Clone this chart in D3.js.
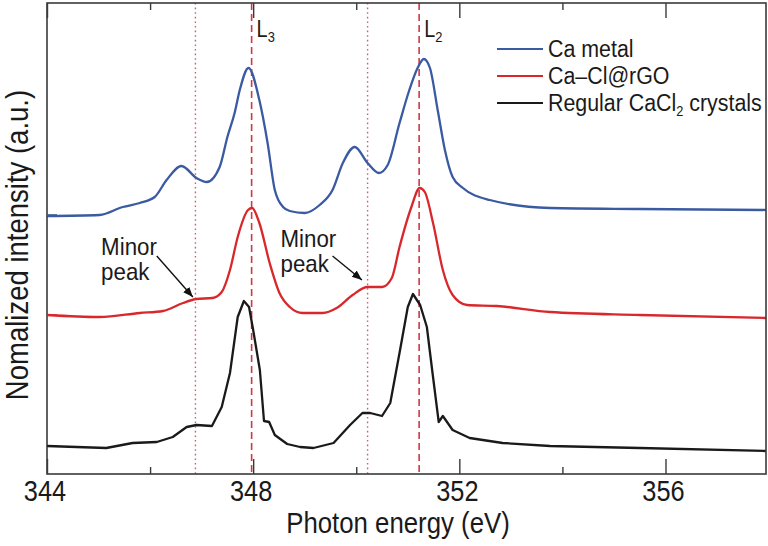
<!DOCTYPE html>
<html><head><meta charset="utf-8">
<script src="https://cdn.jsdelivr.net/npm/d3@7/dist/d3.min.js"></script>
<style>
body{margin:0;background:#fff}
text{font-family:"Liberation Sans",Arial,Helvetica,sans-serif;fill:#1a1a1a}
</style>
</head><body>
<svg id="chart" width="768" height="546"></svg>
<script>
// ---- data (photon energy in eV, normalized intensity with vertical offsets) ----
const energyBlue = [344.0,345.02,345.47,345.80,346.09,346.32,346.61,346.90,347.10,347.35,347.50,347.64,347.74,347.91,348.12,348.28,348.42,348.58,348.71,349.00,349.29,349.54,349.74,349.97,350.22,350.44,350.61,350.84,351.03,351.19,351.31,351.43,351.58,351.72,351.87,352.07,352.59,353.76,355.5,357.95];
const intensityBlue = [2.54,2.55,2.63,2.67,2.73,2.90,3.04,2.92,2.88,3.03,3.33,3.57,3.80,4.02,3.70,3.27,2.80,2.63,2.59,2.57,2.65,2.80,3.07,3.23,3.07,2.97,3.05,3.47,3.80,4.02,4.11,4.02,3.60,3.20,2.93,2.82,2.70,2.62,2.61,2.60];

const energyRed = [344.0,345.02,345.80,346.25,346.64,346.90,347.21,347.39,347.55,347.70,347.90,347.98,348.12,348.32,348.51,348.71,348.96,349.35,349.62,349.93,350.22,350.50,350.69,350.84,351.07,351.23,351.33,351.49,351.68,351.87,352.15,352.73,353.76,355.5,357.95];
const intensityRed = [1.55,1.53,1.57,1.59,1.67,1.71,1.72,1.78,2.00,2.33,2.60,2.62,2.47,2.07,1.77,1.63,1.57,1.57,1.62,1.75,1.83,1.83,1.92,2.23,2.63,2.82,2.78,2.47,2.00,1.75,1.65,1.64,1.58,1.55,1.52];

const energyBlack = [344.0,345.15,345.66,346.13,346.44,346.71,346.90,347.20,347.39,347.55,347.70,347.82,347.92,348.00,348.13,348.21,348.31,348.42,348.66,348.91,349.17,349.56,349.88,350.12,350.27,350.50,350.66,350.85,351.00,351.10,351.24,351.37,351.48,351.60,351.68,351.87,352.20,352.84,353.76,355.5,357.95];
const intensityBlack = [0.24,0.22,0.27,0.28,0.33,0.43,0.45,0.44,0.63,0.97,1.53,1.69,1.63,1.40,1.00,0.49,0.48,0.35,0.26,0.23,0.22,0.27,0.45,0.57,0.57,0.54,0.67,1.20,1.63,1.76,1.65,1.43,0.97,0.48,0.54,0.40,0.32,0.27,0.24,0.22,0.19];

const seriesNames = ["Ca metal","Ca\u2013Cl@rGO","Regular CaCl"];
const seriesColors = ["#3a5aa2","#d8282c","#1a1a1a"];
const baselines = [2.55,1.55,0.24];

const edgeLines = [347.97,351.22];      // L3, L2 (dashed)
const edgeLabels = ["3","2"];
const minorLines = [346.88,350.22];     // minor peaks (dotted)

const xMajorTicks = [344,348,352,356];
const xMinorTicks = [346,350,354];

// ---- layout ----
const svg = d3.select("#chart");
const mLeft = 47, mRight = 766, mTop = 3, mBottom = 474;

const x = d3.scaleLinear().domain([344,357.95]).range([mLeft,mRight]);
const y = d3.scaleLinear().domain([-0.04,4.67]).range([mBottom,mTop]);

const FONT_SX = 0.86;

// reference lines
svg.append("g").selectAll("line").data(edgeLines).join("line")
  .attr("x1",d=>x(d)).attr("x2",d=>x(d)).attr("y1",mTop).attr("y2",mBottom)
  .attr("stroke","#cc3a44").attr("stroke-width",1.6).attr("stroke-dasharray","7,4");
svg.append("g").selectAll("line").data(minorLines).join("line")
  .attr("x1",d=>x(d)).attr("x2",d=>x(d)).attr("y1",mTop).attr("y2",mBottom)
  .attr("stroke","#d0606c").attr("stroke-width",1.4).attr("stroke-dasharray","1.6,3");

// curves
const smooth = d3.line().x(d=>x(d[0])).y(d=>y(d[1])).curve(d3.curveMonotoneX);
const straight = d3.line().x(d=>x(d[0])).y(d=>y(d[1])).curve(d3.curveLinear);
const dataBlue = energyBlue.map((e,i)=>[e,intensityBlue[i]]);
const dataRed = energyRed.map((e,i)=>[e,intensityRed[i]]);
const dataBlack = energyBlack.map((e,i)=>[e,intensityBlack[i]]);

svg.append("path").attr("d",smooth(dataBlue)).attr("fill","none").attr("stroke",seriesColors[0]).attr("stroke-width",2.3).attr("stroke-linejoin","round");
svg.append("path").attr("d",smooth(dataRed)).attr("fill","none").attr("stroke",seriesColors[1]).attr("stroke-width",2.3).attr("stroke-linejoin","round");
svg.append("path").attr("d",straight(dataBlack)).attr("fill","none").attr("stroke",seriesColors[2]).attr("stroke-width",2.3).attr("stroke-linejoin","round");

// frame
svg.append("rect").attr("x",mLeft).attr("y",mTop).attr("width",mRight-mLeft).attr("height",mBottom-mTop)
  .attr("fill","none").attr("stroke","#3a3a3a").attr("stroke-width",1.6);

// bottom/top axis ticks (inward)
const axB = d3.axisBottom(x).tickValues(xMajorTicks).tickSizeInner(-15).tickSizeOuter(0).tickFormat("");
const gB = svg.append("g").attr("transform",`translate(0,${mBottom})`).call(axB);
const axBm = d3.axisBottom(x).tickValues(xMinorTicks).tickSizeInner(-7).tickSizeOuter(0).tickFormat("");
const gBm = svg.append("g").attr("transform",`translate(0,${mBottom})`).call(axBm);
const axT = d3.axisTop(x).tickValues(xMajorTicks).tickSizeInner(-15).tickSizeOuter(0).tickFormat("");
const gT = svg.append("g").attr("transform",`translate(0,${mTop})`).call(axT);
const axTm = d3.axisTop(x).tickValues(xMinorTicks).tickSizeInner(-7).tickSizeOuter(0).tickFormat("");
const gTm = svg.append("g").attr("transform",`translate(0,${mTop})`).call(axTm);
[gB,gBm,gT,gTm].forEach(g=>{g.select(".domain").remove();g.selectAll("line").attr("stroke","#3a3a3a").attr("stroke-width",1.4);});

// tick labels
svg.append("g").selectAll("text").data(xMajorTicks).join("text")
  .attr("transform",d=>`translate(${x(d)-2},501) scale(${FONT_SX},1)`)
  .attr("text-anchor","middle").attr("font-size",29.5).text(d=>d);

// left axis baseline ticks
svg.append("g").selectAll("line").data(baselines).join("line")
  .attr("x1",mLeft).attr("x2",mLeft+10).attr("y1",d=>y(d)).attr("y2",d=>y(d))
  .attr("stroke",(d,i)=>seriesColors[i]).attr("stroke-width",1.6);

// axis titles
svg.append("text").attr("transform",`translate(398,533) scale(${FONT_SX},1)`)
  .attr("text-anchor","middle").attr("font-size",30).text("Photon energy (eV)");
svg.append("text").attr("transform",`translate(28,245) rotate(-90) scale(${FONT_SX},1)`)
  .attr("text-anchor","middle").attr("font-size",32).text("Nomalized intensity (a.u.)");

// edge labels L3 / L2
const gl = svg.append("g").selectAll("text").data(edgeLines).join("text")
  .attr("transform",d=>`translate(${x(d)+5},37) scale(${FONT_SX},1)`).attr("font-size",23);
gl.append("tspan").text("L");
gl.append("tspan").attr("font-size",15).attr("dy",5).text((d,i)=>edgeLabels[i]);

// legend
const lg = svg.append("g").attr("transform","translate(497,49)");
seriesNames.forEach((n,i)=>{
  const row = lg.append("g").attr("transform",`translate(0,${i*27})`);
  row.append("line").attr("x1",0).attr("x2",46).attr("y1",0).attr("y2",0).attr("stroke",seriesColors[i]).attr("stroke-width",2.2);
  const t = row.append("text").attr("transform",`translate(51,8) scale(0.88,1)`).attr("font-size",24.3);
  t.append("tspan").text(n);
  if(i===2){
    t.append("tspan").attr("font-size",14.5).attr("dy",5).text("2");
    t.append("tspan").attr("dy",-5).text(" crystals");
  }
});

// annotations
svg.append("defs").append("marker").attr("id","ah").attr("viewBox","0 0 10 10").attr("refX",10).attr("refY",5)
  .attr("markerWidth",10).attr("markerHeight",10).attr("markerUnits","userSpaceOnUse").attr("orient","auto")
  .append("path").attr("d","M0,1 L10,5 L0,9 Z").attr("fill","#111");

const annText = [[345.05,2.15,1.90],[348.53,2.23,1.98]];
const annArrows = [[346.13,2.14,346.83,1.73],[349.54,2.14,350.11,1.90]];
annText.forEach(a=>{
  svg.append("text").attr("transform",`translate(${x(a[0])},${y(a[1])}) scale(0.93,1)`).attr("font-size",24).text("Minor");
  svg.append("text").attr("transform",`translate(${x(a[0])},${y(a[2])}) scale(0.93,1)`).attr("font-size",24).text("peak");
});
annArrows.forEach(a=>{
  svg.append("line").attr("x1",x(a[0])).attr("y1",y(a[1])).attr("x2",x(a[2])).attr("y2",y(a[3]))
    .attr("stroke","#111").attr("stroke-width",1.4).attr("marker-end","url(#ah)");
});
</script>
</body></html>
